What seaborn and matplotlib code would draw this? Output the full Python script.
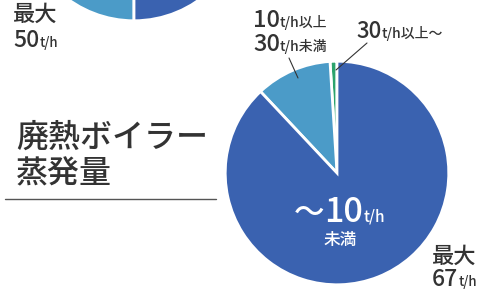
import matplotlib
matplotlib.use("Agg")
import matplotlib.pyplot as plt
import seaborn as sns
from matplotlib.lines import Line2D

sns.set_style("white")
plt.rcParams['font.family'] = ['Noto Sans CJK JP', 'DejaVu Sans']
plt.rcParams['font.weight'] = 'medium'

# data
categories = ['30t/h以上〜', '10t/h以上30t/h未満', '〜10t/h未満']
main_share = [1, 11, 88]      # 最大 67t/h
top_share = [3, 47, 50]       # 最大 50t/h (only the lower edge is visible)
colors = ['#2ba36c', '#4b9bc8', '#3a62b0']
text_color = '#333333'

W, H = 495, 292
fig = plt.figure(figsize=(W / 100, H / 100), dpi=100)
fig.patch.set_facecolor('white')


def px_axes(left, top, size):
    # axes box given in image pixels (y from top)
    return fig.add_axes([left / W, 1 - (top + size) / H, size / W, size / H])


def draw_pie(ax, share):
    ax.pie(share, colors=colors, startangle=90, counterclock=True,
           wedgeprops=dict(edgecolor='white', linewidth=2))
    ax.set_xlim(-1.02, 1.02)
    ax.set_ylim(-1.02, 1.02)
    ax.axis('off')


draw_pie(px_axes(20, -205, 228), top_share)
draw_pie(px_axes(223, 59, 228), main_share)

renderer = fig.canvas.get_renderer()


def mixed(x, y, parts, color=text_color):
    # parts: list of (text, fontsize); x, y = left / baseline in image pixels
    for s, size in parts:
        t = fig.text(x / W, 1 - y / H, s, fontsize=size, color=color,
                     ha='left', va='baseline')
        x += t.get_window_extent(renderer).width


mixed(13, 21, [('最大', 16)])
mixed(13, 47, [('50', 16.5), ('t/h', 9.5)])

mixed(16, 147, [('廃熱ボイラー', 23)])
mixed(16, 183, [('蒸発量', 23)])
fig.add_artist(Line2D([5 / W, 216 / W], [1 - 199 / H, 1 - 199 / H],
                      color='#555555', linewidth=1))

mixed(253, 27, [('10', 17), ('t/h以上', 10)])
mixed(253, 51, [('30', 17), ('t/h未満', 10)])
mixed(356, 38, [('30', 16), ('t/h以上〜', 10)])

fig.add_artist(Line2D([289 / W, 298 / W], [1 - 58 / H, 1 - 78 / H],
                      color=text_color, linewidth=0.8))
fig.add_artist(Line2D([367 / W, 336 / W], [1 - 43 / H, 1 - 70 / H],
                      color=text_color, linewidth=0.8))

mixed(294, 222, [('〜', 22), ('10', 24.5), ('t/h', 11)], color='white')
mixed(324, 245, [('未満', 12)], color='white')

mixed(432, 263, [('最大', 16)])
mixed(432, 286, [('67', 16.5), ('t/h', 9.5)])

fig.savefig('out.png', dpi=100, facecolor='white')
